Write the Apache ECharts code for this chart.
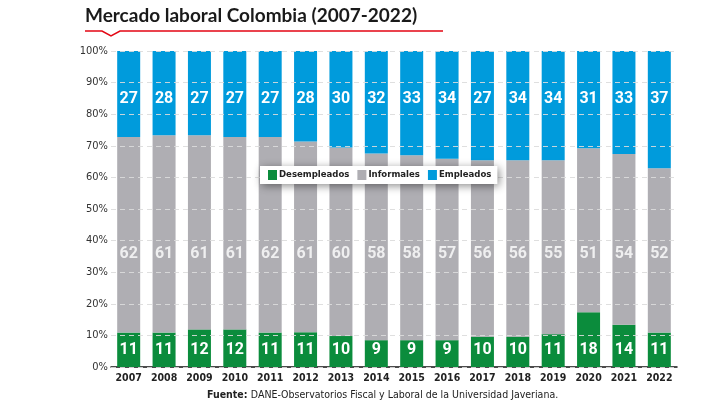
<!DOCTYPE html>
<html>
<head>
<meta charset="utf-8">
<script src="https://cdn.jsdelivr.net/npm/echarts@6/dist/echarts.min.js"></script>
<style>
  html, body { margin: 0; padding: 0; background: #fff; }
  #chart { width: 720px; height: 405px; }
</style>
</head>
<body>
<div id="chart"></div>
<script>
// años
const years = ['2007', '2008', '2009', '2010', '2011', '2012', '2013', '2014',
  '2015', '2016', '2017', '2018', '2019', '2020', '2021', '2022']

// alturas de barra (%)
const desempleados = [10.9, 10.9, 11.9, 11.9, 10.9, 11.0, 9.8, 8.5, 8.5, 8.5, 9.6, 9.6, 10.4, 17.3, 13.4, 10.9]
const informales = [61.9, 62.4, 61.4, 60.9, 61.9, 60.4, 59.7, 59.1, 58.5, 57.4, 55.8, 55.8, 55.0, 51.9, 54.0, 52.0]
const empleados = [27.2, 26.7, 26.7, 27.2, 27.2, 28.6, 30.5, 32.4, 33.0, 34.1, 34.6, 34.6, 34.6, 30.8, 32.6, 37.1]

// cifras rotuladas
const desempleadosLbl = [11, 11, 12, 12, 11, 11, 10, 9, 9, 9, 10, 10, 11, 18, 14, 11]
const informalesLbl = [62, 61, 61, 61, 62, 61, 60, 58, 58, 57, 56, 56, 55, 51, 54, 52]
const empleadosLbl = [27, 28, 27, 27, 27, 28, 30, 32, 33, 34, 27, 34, 34, 31, 33, 37]

// fila de rótulos de informales
const informalesLblRow = 35.8

const yTicks = [0, 10, 20, 30, 40, 50, 60, 70, 80, 90, 100]

const cond = '"Liberation Sans Narrow", "DejaVu Sans Condensed", sans-serif'

const chart = echarts.init(document.getElementById('chart'))

const barLabel = {
  show: true,
  color: '#fff',
  fontFamily: 'Roboto, sans-serif',
  fontWeight: 'bold',
  fontSize: 16
}

const options = {
  animation: false,
  color: ['#0b8c3c', '#afaeb3', '#009bdc'],
  graphic: [
    {
      type: 'text',
      left: 85,
      top: 6,
      style: {
        text: 'Mercado laboral Colombia (2007-2022)',
        font: 'bold 19px Lato, sans-serif',
        fill: '#1a1a1a'
      }
    },
    {
      type: 'polyline',
      shape: { points: [[85, 31], [102, 31], [111, 36], [120, 31], [443, 31]] },
      style: { stroke: '#e30613', lineWidth: 1.5, fill: null }
    },
    {
      type: 'text',
      left: 207,
      top: 389,
      style: {
        rich: {
          b: { fontFamily: cond, fontWeight: 'bold', fontSize: 10.5, fill: '#222' },
          n: { fontFamily: cond, fontSize: 10.5, fill: '#222' }
        },
        text: '{b|Fuente:} {n|DANE-Observatorios Fiscal y Laboral de la Universidad Javeriana.}'
      }
    }
  ],
  legend: {
    left: 260,
    top: 166,
    backgroundColor: '#fff',
    shadowBlur: 8,
    shadowColor: 'rgba(0,0,0,0.45)',
    shadowOffsetX: 2,
    shadowOffsetY: 2,
    padding: [4, 6, 4, 8],
    itemGap: 8,
    itemWidth: 9,
    itemHeight: 10,
    icon: 'rect',
    selectedMode: false,
    textStyle: {
      fontFamily: cond,
      fontWeight: 'bold',
      fontSize: 9.5,
      color: '#222',
      padding: [0, 0, 0, -3]
    },
    data: ['Desempleados', 'Informales', 'Empleados']
  },
  grid: {
    left: 111,
    right: 43,
    top: 51,
    bottom: 38,
    containLabel: false
  },
  xAxis: {
    type: 'category',
    data: years,
    axisLine: { lineStyle: { color: '#111', width: 1.5 } },
    axisTick: { show: false },
    axisLabel: {
      interval: 0,
      margin: 6,
      fontFamily: cond,
      fontWeight: 'bold',
      fontSize: 10.5,
      color: '#222'
    }
  },
  yAxis: {
    type: 'value',
    min: 0,
    max: 100,
    interval: 10,
    z: 3,
    axisLine: { show: false },
    axisTick: { show: false },
    axisLabel: {
      margin: 3,
      fontFamily: cond,
      fontSize: 11,
      color: '#333',
      formatter: (v) => yTicks.includes(v) ? v + '%' : ''
    },
    splitLine: {
      lineStyle: { color: 'rgba(220,220,220,0.9)', type: [5, 4], width: 1 }
    }
  },
  series: [
    {
      name: 'Desempleados',
      type: 'bar',
      stack: 'total',
      barWidth: 23,
      data: desempleados,
      label: {
        ...barLabel,
        position: 'insideBottom',
        distance: 9,
        formatter: (p) => desempleadosLbl[p.dataIndex]
      }
    },
    {
      name: 'Informales',
      type: 'bar',
      stack: 'total',
      barWidth: 23,
      data: informales
    },
    {
      name: 'Empleados',
      type: 'bar',
      stack: 'total',
      barWidth: 23,
      data: empleados,
      label: {
        ...barLabel,
        position: 'insideTop',
        distance: 40,
        formatter: (p) => empleadosLbl[p.dataIndex]
      }
    },
    {
      name: 'rotulos',
      type: 'scatter',
      symbolSize: 0,
      z: 5,
      silent: true,
      data: years.map((y, i) => [i, informalesLblRow]),
      label: {
        ...barLabel,
        position: 'inside',
        formatter: (p) => informalesLbl[p.dataIndex]
      }
    }
  ]
}

chart.setOption(options)
</script>
</body>
</html>
